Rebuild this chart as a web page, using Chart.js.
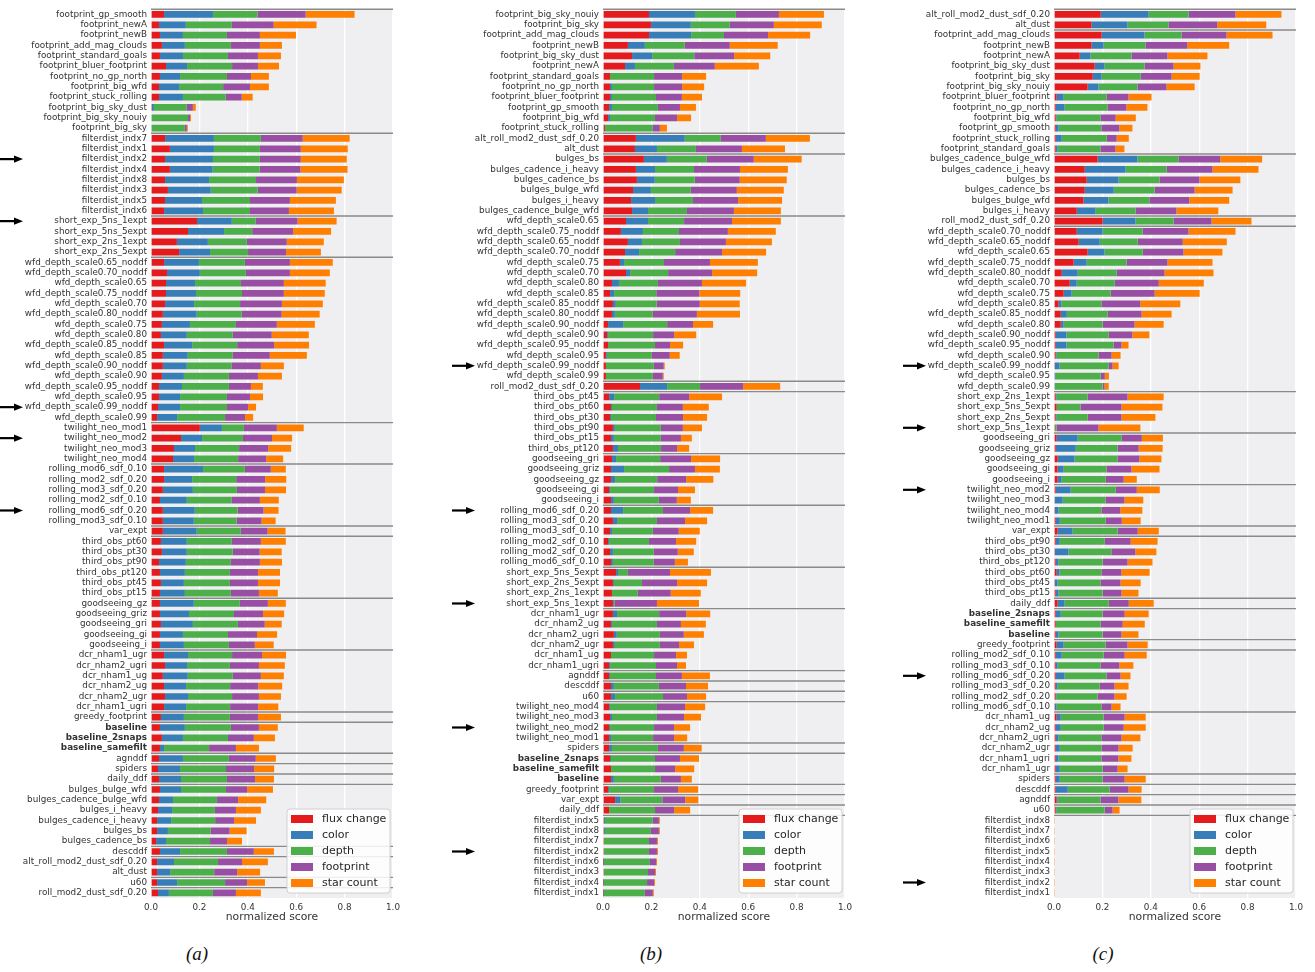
<!DOCTYPE html>
<html>
<head>
<meta charset="utf-8">
<script src="https://cdn.jsdelivr.net/npm/chart.js@4/dist/chart.umd.min.js"></script>
<style>
  body { margin: 0; background: #fff; width: 1315px; height: 972px; position: relative; overflow: hidden; }
  canvas { position: absolute; top: 0; }
  .cap { position: absolute; top: 943px; width: 60px; text-align: center; font: italic 19px 'Liberation Serif', serif; color: #111; }
</style>
</head>
<body>
<canvas id="pa" width="400" height="930" style="left:0px"></canvas>
<canvas id="pb" width="400" height="930" style="left:452px"></canvas>
<canvas id="pc" width="400" height="930" style="left:903px"></canvas>
<div class="cap" style="left:167px">(a)</div>
<div class="cap" style="left:621px">(b)</div>
<div class="cap" style="left:1073px">(c)</div>
<script>
// series names and colours
const seriesNames = ['flux change', 'color', 'depth', 'footprint', 'star count'];
const seriesColors = ['#e41a1c', '#377eb8', '#4daf4a', '#984ea3', '#ff7f00'];
const xTicks = [0, 0.2, 0.4, 0.6, 0.8, 1.0];
const boldLabels = ['baseline', 'baseline_2snaps', 'baseline_samefilt'];
const arrowLabels = ['filterdist_indx2', 'short_exp_5ns_1expt', 'wfd_depth_scale0.99_noddf', 'twilight_neo_mod2', 'rolling_mod6_sdf_0.20'];

// ---- panel (a)
const labelsA = ['footprint_gp_smooth','footprint_newA','footprint_newB','footprint_add_mag_clouds','footprint_standard_goals','footprint_bluer_footprint','footprint_no_gp_north','footprint_big_wfd','footprint_stuck_rolling','footprint_big_sky_dust','footprint_big_sky_nouiy','footprint_big_sky',
  'filterdist_indx7','filterdist_indx1','filterdist_indx2','filterdist_indx4','filterdist_indx8','filterdist_indx3','filterdist_indx5','filterdist_indx6',
  'short_exp_5ns_1expt','short_exp_5ns_5expt','short_exp_2ns_1expt','short_exp_2ns_5expt',
  'wfd_depth_scale0.65_noddf','wfd_depth_scale0.70_noddf','wfd_depth_scale0.65','wfd_depth_scale0.75_noddf','wfd_depth_scale0.70','wfd_depth_scale0.80_noddf','wfd_depth_scale0.75','wfd_depth_scale0.80','wfd_depth_scale0.85_noddf','wfd_depth_scale0.85','wfd_depth_scale0.90_noddf','wfd_depth_scale0.90','wfd_depth_scale0.95_noddf','wfd_depth_scale0.95','wfd_depth_scale0.99_noddf','wfd_depth_scale0.99',
  'twilight_neo_mod1','twilight_neo_mod2','twilight_neo_mod3','twilight_neo_mod4',
  'rolling_mod6_sdf_0.10','rolling_mod2_sdf_0.20','rolling_mod3_sdf_0.20','rolling_mod2_sdf_0.10','rolling_mod6_sdf_0.20','rolling_mod3_sdf_0.10',
  'var_expt',
  'third_obs_pt60','third_obs_pt30','third_obs_pt90','third_obs_pt120','third_obs_pt45','third_obs_pt15',
  'goodseeing_gz','goodseeing_griz','goodseeing_gri','goodseeing_gi','goodseeing_i',
  'dcr_nham1_ugr','dcr_nham2_ugri','dcr_nham1_ug','dcr_nham2_ug','dcr_nham2_ugr','dcr_nham1_ugri',
  'greedy_footprint','baseline','baseline_2snaps','baseline_samefilt','agnddf','spiders','daily_ddf',
  'bulges_bulge_wfd','bulges_cadence_bulge_wfd','bulges_i_heavy','bulges_cadence_i_heavy','bulges_bs','bulges_cadence_bs',
  'descddf','alt_roll_mod2_dust_sdf_0.20','alt_dust','u60','roll_mod2_dust_sdf_0.20'];
const groupsA = [12,8,4,16,4,6,1,6,5,6,1,3,1,1,1,6,1,2,1,1];
const fluxA = [.054,.033,.037,.045,.037,.062,.037,.033,.033,.004,0,0, .058,.078,.058,.078,.058,.070,.058,.054, .190,.153,.107,.116, .054,.066,.062,.062,.058,.049,.045,.041,.054,.049,.049,.045,.033,.033,.029,.025, .202,.124,.095,.091, .054,.054,.049,.037,.049,.049, .049, .041,.045,.033,.037,.041,.037, .037,.037,.041,.037,.037, .054,.058,.049,.054,.058,.054, .041, .037,.045,.037, .033,.029,.033, .037,.033,.029,.025,.025,.021, .037,.025,.025,.025,.029];
const colorA = [.202,.111,.095,.095,.095,.087,.083,.083,.099,.008,0,.004, .202,.182,.198,.177,.182,.177,.153,.161, .144,.149,.128,.128, .144,.136,.120,.124,.120,.140,.116,.107,.116,.103,.099,.091,.095,.087,.091,.083, .091,.087,.087,.087, .161,.116,.124,.111,.132,.128, .140, .107,.103,.111,.103,.095,.103, .140,.120,.132,.095,.099, .099,.091,.103,.091,.095,.091, .095, .103,.087,.017, .099,.091,.091, .087,.058,.058,.058,.045,.041, .083,.070,.054,.083,.045];
const depthA = [.184,.190,.182,.190,.186,.186,.194,.182,.177,.136,.153,.136, .194,.190,.194,.194,.194,.194,.198,.194, .099,.116,.161,.157, .190,.190,.190,.190,.190,.186,.190,.190,.186,.186,.186,.186,.194,.194,.194,.198, .091,.169,.182,.182, .173,.182,.182,.186,.177,.177, .182, .186,.190,.186,.186,.190,.190, .190,.186,.186,.186,.186, .182,.177,.186,.182,.182,.182, .190, .190,.186,.186, .190,.190,.190, .186,.182,.177,.182,.177,.182, .194,.182,.182,.198,.182];
const footA = [.199,.173,.136,.120,.124,.107,.099,.111,.066,.025,.008,.008, .173,.169,.169,.169,.169,.161,.165,.161, .173,.169,.165,.157, .186,.182,.177,.173,.173,.165,.169,.161,.153,.153,.120,.120,.091,.095,.087,.083, .136,.120,.120,.116, .107,.120,.116,.116,.107,.103, .111, .120,.111,.120,.116,.116,.116, .116,.120,.111,.120,.107, .124,.120,.116,.116,.111,.116, .116, .116,.107,.111, .111,.116,.116, .087,.087,.087,.078,.078,.070, .111,.099,.095,.091,.095];
const starA = [.202,.177,.149,.091,.095,.087,.074,.078,.045,.012,.004,.004, .194,.194,.190,.194,.194,.186,.190,.186, .161,.157,.153,.144, .177,.165,.173,.169,.169,.157,.157,.153,.144,.153,.095,.099,.049,.054,.033,.033, .111,.083,.095,.070, .062,.087,.087,.078,.062,.058, .074, .103,.091,.091,.091,.091,.078, .074,.087,.070,.083,.078, .099,.107,.095,.099,.091,.083, .095, .078,.087,.095, .083,.083,.078, .107,.116,.103,.091,.070,.062, .083,.107,.095,.074,.103];

// ---- panel (b)
const labelsB = ['footprint_big_sky_nouiy','footprint_big_sky','footprint_add_mag_clouds','footprint_newB','footprint_big_sky_dust','footprint_newA','footprint_standard_goals','footprint_no_gp_north','footprint_bluer_footprint','footprint_gp_smooth','footprint_big_wfd','footprint_stuck_rolling',
  'alt_roll_mod2_dust_sdf_0.20','alt_dust',
  'bulges_bs','bulges_cadence_i_heavy','bulges_cadence_bs','bulges_bulge_wfd','bulges_i_heavy','bulges_cadence_bulge_wfd',
  'wfd_depth_scale0.65','wfd_depth_scale0.75_noddf','wfd_depth_scale0.65_noddf','wfd_depth_scale0.70_noddf','wfd_depth_scale0.75','wfd_depth_scale0.70','wfd_depth_scale0.80','wfd_depth_scale0.85','wfd_depth_scale0.85_noddf','wfd_depth_scale0.80_noddf','wfd_depth_scale0.90_noddf','wfd_depth_scale0.90','wfd_depth_scale0.95_noddf','wfd_depth_scale0.95','wfd_depth_scale0.99_noddf','wfd_depth_scale0.99',
  'roll_mod2_dust_sdf_0.20',
  'third_obs_pt45','third_obs_pt60','third_obs_pt30','third_obs_pt90','third_obs_pt15','third_obs_pt120',
  'goodseeing_gri','goodseeing_griz','goodseeing_gz','goodseeing_gi','goodseeing_i',
  'rolling_mod6_sdf_0.20','rolling_mod3_sdf_0.20','rolling_mod3_sdf_0.10','rolling_mod2_sdf_0.10','rolling_mod2_sdf_0.20','rolling_mod6_sdf_0.10',
  'short_exp_5ns_5expt','short_exp_2ns_5expt','short_exp_2ns_1expt','short_exp_5ns_1expt',
  'dcr_nham1_ugr','dcr_nham2_ug','dcr_nham2_ugri','dcr_nham2_ugr','dcr_nham1_ug','dcr_nham1_ugri',
  'agnddf','descddf','u60',
  'twilight_neo_mod4','twilight_neo_mod3','twilight_neo_mod2','twilight_neo_mod1',
  'spiders','baseline_2snaps','baseline_samefilt','baseline','greedy_footprint','var_expt','daily_ddf',
  'filterdist_indx5','filterdist_indx8','filterdist_indx7','filterdist_indx2','filterdist_indx6','filterdist_indx3','filterdist_indx4','filterdist_indx1'];
const groupsB = [12,2,6,16,1,6,5,6,4,6,1,1,1,4,1,3,1,1,1,8];
const fluxB = [.190,.198,.190,.103,.120,.091,.029,.029,.029,.025,.021,.008, .136,.132, .169,.136,.140,.124,.116,.120, .095,.074,.103,.091,.070,.095,.037,.029,.041,.037,.021,.017,.021,.012,.012,.012, .153, .025,.033,.029,.041,.033,.041, .037,.033,.033,.025,.033, .033,.041,.029,.021,.029,.033, .054,.041,.037,.041, .041,.033,.045,.041,.033,.025, .025,.033,.033, .025,.029,.025,.025, .025,.029,.033,.033,.021,.050,.025, .004,.004,.004,.004,.001,.004,.001,.001];
const colorB = [.190,.165,.174,.070,.083,.041,0,.008,.008,.012,.008,0, .202,.091, .095,.079,.074,.074,.099,.066, .091,.091,.058,.058,.017,.017,.029,.017,.012,.012,.062,.004,0,.004,0,0, .112, .021,.004,.004,.008,.012,.021, .017,.054,.017,.004,.012, .050,.017,.008,.004,.012,.008, .008,.004,0,.004, .017,.004,.012,.008,0,.004, .004,.012,.017, .004,.008,.004,.008, .012,.004,0,.012,.004,.021,0, .004,.004,0,0,.003,0,.003,.003];
const depthB = [.169,.161,.136,.165,.174,.161,.182,.174,.182,.190,.186,.198, .149,.161, .165,.161,.165,.165,.157,.161, .149,.149,.157,.149,.165,.157,.161,.174,.169,.157,.182,.186,.194,.186,.198,.194, .136, .186,.186,.186,.190,.194,.178, .182,.186,.174,.182,.186, .165,.165,.169,.165,.169,.169, .041,.116,.107,.004, .174,.186,.178,.186,.178,.190, .190,.186,.198, .194,.186,.182,.174, .190,.182,.182,.194,.186,.174,.190, .198,.190,.186,.186,.190,.182,.178,.169];
const footB = [.178,.182,.182,.186,.165,.169,.116,.116,.107,.091,.091,.029, .186,.190, .194,.190,.186,.190,.186,.194, .198,.202,.190,.194,.190,.182,.182,.178,.178,.182,.107,.087,.062,.074,.041,.041, .178, .124,.107,.112,.091,.083,.066, .128,.107,.120,.099,.074, .112,.116,.107,.112,.099,.087, .174,.145,.136,.174, .112,.099,.099,.079,.091,.087, .107,.112,.099, .116,.112,.083,.087, .107,.103,.083,.083,.099,.095,.079, .025,.033,.033,.033,.025,.029,.029,.033];
const starB = [.186,.198,.174,.198,.149,.182,.099,.091,.083,.066,.058,.029, .182,.178, .198,.198,.194,.194,.182,.194, .202,.198,.190,.182,.198,.186,.182,.169,.165,.178,.083,.091,.054,.041,.004,.004, .153, .136,.107,.099,.079,.045,.050, .120,.103,.112,.070,.058, .095,.091,.087,.083,.066,.054, .169,.124,.124,.174, .099,.103,.083,.062,.045,.037, .116,.091,.079, .083,.070,.066,.054, .074,.079,.079,.045,.083,.054,.066, .004,.004,.004,.004,.004,.004,.004,.004];

// ---- panel (c)
const labelsC = ['alt_roll_mod2_dust_sdf_0.20','alt_dust',
  'footprint_add_mag_clouds','footprint_newB','footprint_newA','footprint_big_sky_dust','footprint_big_sky','footprint_big_sky_nouiy','footprint_bluer_footprint','footprint_no_gp_north','footprint_big_wfd','footprint_gp_smooth','footprint_stuck_rolling','footprint_standard_goals',
  'bulges_cadence_bulge_wfd','bulges_cadence_i_heavy','bulges_bs','bulges_cadence_bs','bulges_bulge_wfd','bulges_i_heavy',
  'roll_mod2_dust_sdf_0.20',
  'wfd_depth_scale0.70_noddf','wfd_depth_scale0.65_noddf','wfd_depth_scale0.65','wfd_depth_scale0.75_noddf','wfd_depth_scale0.80_noddf','wfd_depth_scale0.70','wfd_depth_scale0.75','wfd_depth_scale0.85','wfd_depth_scale0.85_noddf','wfd_depth_scale0.80','wfd_depth_scale0.90_noddf','wfd_depth_scale0.95_noddf','wfd_depth_scale0.90','wfd_depth_scale0.99_noddf','wfd_depth_scale0.95','wfd_depth_scale0.99',
  'short_exp_2ns_1expt','short_exp_5ns_5expt','short_exp_2ns_5expt','short_exp_5ns_1expt',
  'goodseeing_gri','goodseeing_griz','goodseeing_gz','goodseeing_gi','goodseeing_i',
  'twilight_neo_mod2','twilight_neo_mod3','twilight_neo_mod4','twilight_neo_mod1',
  'var_expt',
  'third_obs_pt90','third_obs_pt30','third_obs_pt120','third_obs_pt60','third_obs_pt45','third_obs_pt15',
  'daily_ddf','baseline_2snaps','baseline_samefilt','baseline','greedy_footprint',
  'rolling_mod2_sdf_0.10','rolling_mod3_sdf_0.10','rolling_mod6_sdf_0.20','rolling_mod3_sdf_0.20','rolling_mod2_sdf_0.20','rolling_mod6_sdf_0.10',
  'dcr_nham1_ug','dcr_nham2_ug','dcr_nham2_ugri','dcr_nham2_ugr','dcr_nham1_ugri','dcr_nham1_ugr',
  'spiders','descddf','agnddf','u60',
  'filterdist_indx8','filterdist_indx7','filterdist_indx6','filterdist_indx5','filterdist_indx4','filterdist_indx3','filterdist_indx2','filterdist_indx1'];
const groupsC = [2,12,6,1,16,4,5,4,1,6,1,3,1,6,6,1,1,1,1,8];
const fluxC = [.193,.155, .197,.155,.106,.168,.160,.139,.011,.007,.007,.007,.007,.007, .180,.127,.135,.127,.122,.094, .201, .094,.102,.139,.081,.032,.065,.040,.019,.028,.028,.007,.007,.007,.004,.003,0, .007,.011,.007,.004, .011,.007,.015,.015,.015, .007,.003,.004,.007, .015, .007,.004,.007,.011,.004,.007, .015,.007,.007,.007,.011, .007,.007,.007,.007,.007,.004, .011,.007,.007,.007,.007,.007, .007,.007,.011,.007, 0,0,0,0,0,0,0,0];
const colorC = [.198,.149, .177,.050,.045,.041,.037,.045,.029,.037,.004,.012,.025,.008, .165,.169,.132,.120,.103,.078, .136, .107,.087,.070,.054,.066,.029,.033,.012,.025,.012,.045,.045,.004,.019,.004,.004, .004,0,.004,0, .087,.083,.070,.025,.017, .062,.033,.015,.017, .062, .017,.056,.012,.012,.011,.012, .029,.021,0,.012,.029, .025,.008,.037,.008,.004,.007, .017,.021,.012,.017,.012,.017, .017,.050,.004,.004, 0,0,0,0,0,0,0,0];
const depthC = [.165,.169, .153,.173,.169,.165,.161,.161,.177,.177,.182,.177,.186,.177, .169,.169,.169,.169,.169,.165, .157, .165,.157,.157,.165,.161,.157,.161,.165,.169,.161,.173,.194,.173,.202,.186,.197, .128,.099,.128,.007, .182,.173,.177,.177,.182, .186,.177,.177,.190, .186, .186,.177,.182,.173,.177,.182, .182,.173,.186,.182,.173, .173,.177,.173,.173,.169,.186, .177,.177,.177,.173,.177,.177, .177,.173,.177,.198, 0,0,0,0,0,0,0,0];
const footC = [.194,.202, .186,.173,.149,.120,.128,.120,.091,.078,.062,.074,.041,.062, .173,.190,.165,.165,.165,.169, .157, .190,.186,.169,.169,.198,.182,.182,.161,.140,.132,.099,.033,.054,.017,.017,.008, .165,.169,.140,.173, .083,.087,.091,.103,.074, .087,.078,.078,.066, .083, .107,.099,.103,.083,.083,.078, .083,.091,.091,.078,.091, .087,.078,.058,.062,.070,.041, .087,.083,.083,.070,.070,.062, .091,.078,.074,.033, 0,0,0,0,0,0,0,0];
const starC = [.190,.202, .190,.173,.165,.111,.116,.116,.095,.087,.083,.054,.050,.037, .173,.190,.169,.157,.165,.173, .165, .194,.182,.161,.186,.202,.186,.186,.165,.124,.120,.070,.029,.037,.025,.017,.017, .149,.169,.140,.173, .087,.099,.091,.116,.054, .095,.078,.091,.078, .087, .111,.087,.103,.116,.083,.070, .103,.099,.091,.070,.083, .091,.058,.041,.058,.050,.037, .087,.091,.078,.058,.054,.041, .087,.054,.095,.029, .004,.004,.004,.004,.004,.004,.004,.004];

// grey plot background
const plotBg = {
  id: 'plotBg',
  beforeDraw(chart) {
    const a = chart.chartArea, ctx = chart.ctx;
    ctx.save();
    ctx.fillStyle = '#efeff1';
    ctx.fillRect(a.left, a.top, a.right - a.left, a.bottom - a.top);
    ctx.restore();
  }
};

// group separators, arrows and the legend box
const extras = {
  id: 'extras',
  afterDraw(chart, args, opts) {
    const ctx = chart.ctx, a = chart.chartArea, y = chart.scales.y;
    const half = (y.getPixelForValue(1) - y.getPixelForValue(0)) / 2;
    ctx.save();
    // separators
    ctx.strokeStyle = '#8a8a8a';
    ctx.lineWidth = 1.4;
    let start = 0;
    opts.groups.forEach(n => {
      const py = y.getPixelForValue(start) - half;
      ctx.beginPath();
      ctx.moveTo(a.left, py);
      ctx.lineTo(a.right, py);
      ctx.stroke();
      start += n;
    });
    // arrows
    ctx.fillStyle = '#000';
    ctx.strokeStyle = '#000';
    arrowLabels.forEach(lab => {
      const i = chart.data.labels.indexOf(lab);
      if (i < 0) return;
      const py = y.getPixelForValue(i);
      const x0 = a.left - 151;
      ctx.lineWidth = 2.2;
      ctx.beginPath();
      ctx.moveTo(x0, py);
      ctx.lineTo(x0 + 16, py);
      ctx.stroke();
      ctx.beginPath();
      ctx.moveTo(x0 + 14, py - 3.6);
      ctx.lineTo(x0 + 23, py);
      ctx.lineTo(x0 + 14, py + 3.6);
      ctx.closePath();
      ctx.fill();
    });
    // legend
    const w = 103, h = 84;
    const lx = a.right - 3 - w, ly = a.bottom - 5 - h;
    ctx.beginPath();
    ctx.roundRect(lx, ly, w, h, 3);
    ctx.fillStyle = 'rgba(255,255,255,0.85)';
    ctx.fill();
    ctx.strokeStyle = '#d0d0d0';
    ctx.lineWidth = 1;
    ctx.stroke();
    ctx.font = '11px "DejaVu Sans"';
    ctx.textBaseline = 'middle';
    chart.data.datasets.forEach((ds, k) => {
      const cy = ly + 10 + 16 * k;
      ctx.fillStyle = ds.backgroundColor;
      ctx.fillRect(lx + 4, cy - 4, 22, 8);
      ctx.fillStyle = '#262626';
      ctx.fillText(ds.label, lx + 35, cy);
    });
    ctx.restore();
  }
};

function makePanel(id, labels, series, groups) {
  new Chart(document.getElementById(id), {
    type: 'bar',
    data: {
      labels: labels,
      datasets: series.map((vals, k) => ({
        label: seriesNames[k],
        data: vals,
        backgroundColor: seriesColors[k],
        barPercentage: 0.65,
        categoryPercentage: 1.0
      }))
    },
    options: {
      indexAxis: 'y',
      responsive: false,
      animation: false,
      devicePixelRatio: 1,
      layout: { padding: { top: 5, bottom: 2, left: 0, right: 7 } },
      plugins: {
        legend: { display: false },
        tooltip: { enabled: false },
        extras: { groups: groups }
      },
      scales: {
        x: {
          stacked: true,
          min: 0,
          max: 1,
          afterBuildTicks: s => { s.ticks = xTicks.map(v => ({ value: v })); },
          afterFit: s => { s.height = 30; s.paddingLeft = 0; s.paddingRight = 0; },
          grid: { color: '#ffffff', lineWidth: 1.3, drawTicks: false },
          border: { display: false },
          ticks: {
            padding: 4,
            color: '#333',
            font: { family: 'DejaVu Sans', size: 8.8 },
            callback: v => Number(v).toFixed(1)
          },
          title: {
            display: true,
            text: 'normalized score',
            color: '#333',
            font: { family: 'DejaVu Sans', size: 10.8 },
            padding: { top: 0, bottom: 4 }
          }
        },
        y: {
          stacked: true,
          afterFit: s => { s.width = 151; },
          grid: { display: false, drawTicks: false },
          border: { display: false },
          ticks: {
            autoSkip: false,
            padding: 4,
            color: '#333',
            font: ctx => ({
              family: 'DejaVu Sans',
              size: 8.8,
              weight: (ctx.tick && boldLabels.includes(ctx.tick.label)) ? 'bold' : 'normal'
            })
          }
        }
      }
    },
    plugins: [plotBg, extras]
  });
}

makePanel('pa', labelsA, [fluxA, colorA, depthA, footA, starA], groupsA);
makePanel('pb', labelsB, [fluxB, colorB, depthB, footB, starB], groupsB);
makePanel('pc', labelsC, [fluxC, colorC, depthC, footC, starC], groupsC);
</script>
</body>
</html>
